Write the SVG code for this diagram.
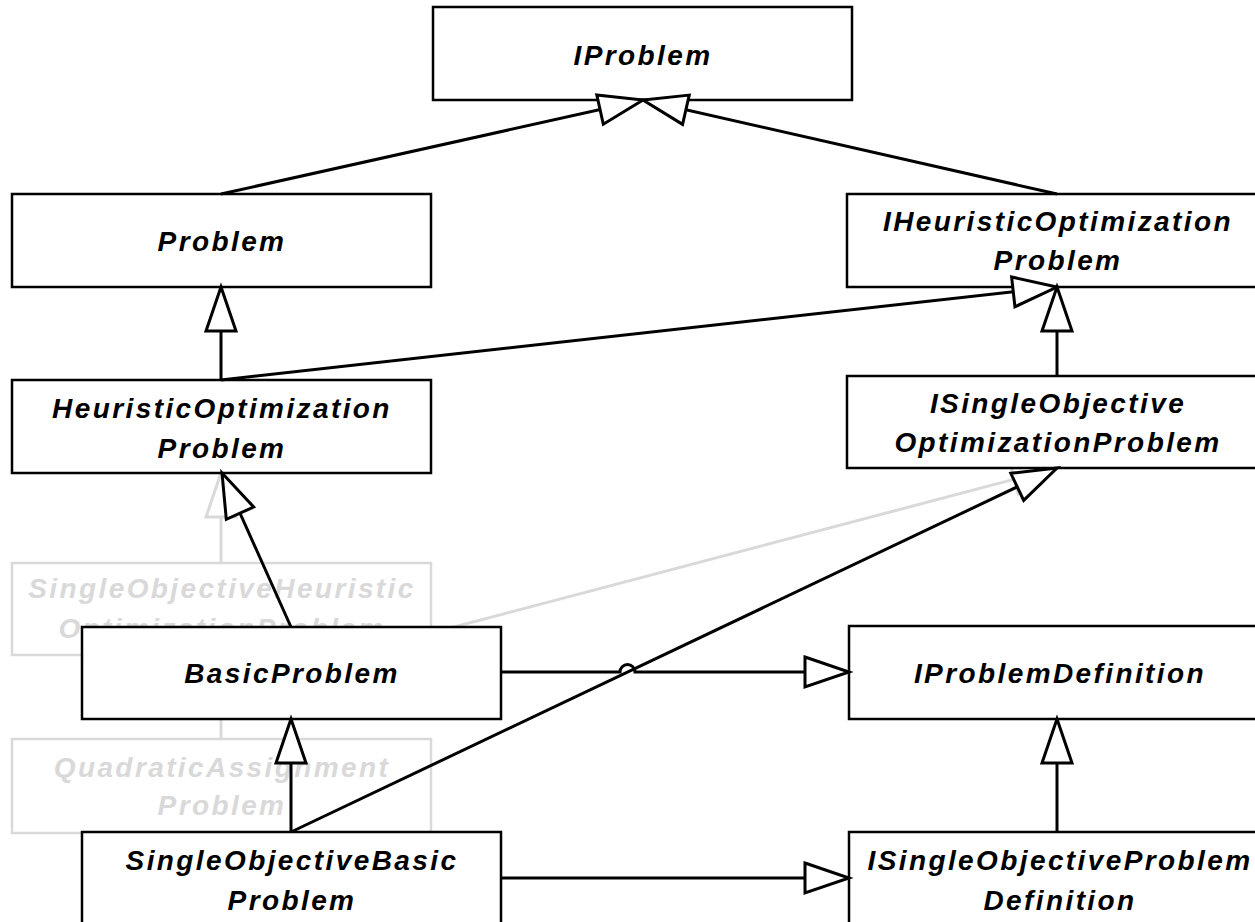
<svg xmlns="http://www.w3.org/2000/svg" width="1255" height="922" viewBox="0 0 1255 922">
<style>
.box{fill:#fff;stroke:#000;stroke-width:2.5}
.gbox{fill:#fff;stroke:#d9d9d9;stroke-width:2.5}
.t{font-family:"Liberation Sans",Arial,Helvetica,sans-serif;font-weight:bold;font-style:italic;font-size:28px;letter-spacing:2.4px;text-anchor:middle;fill:#000}
.gt{fill:#d9d9d9}
.c{fill:none;stroke:#000;stroke-width:3;marker-end:url(#gen)}
.gc{fill:none;stroke:#d9d9d9;stroke-width:3;marker-end:url(#ggen)}
</style>
<defs>
<marker id="gen" markerUnits="userSpaceOnUse" markerWidth="50" markerHeight="34" refX="44" refY="15" orient="auto" overflow="visible">
<path d="M0,0 L44,15 L0,30 Z" fill="#fff" stroke="#000" stroke-width="3" stroke-linejoin="miter"/>
</marker>
<marker id="ggen" markerUnits="userSpaceOnUse" markerWidth="50" markerHeight="34" refX="44" refY="15" orient="auto" overflow="visible">
<path d="M0,0 L44,15 L0,30 Z" fill="#fff" stroke="#d9d9d9" stroke-width="3"/>
</marker>
</defs>
<rect width="1255" height="922" fill="#fff"/>

<g id="SingleObjectiveHeuristicOptimizationProblem">
<rect class="gbox" x="12" y="563" width="419" height="92"/>
<text class="t gt" x="222" y="598">SingleObjectiveHeuristic</text>
<text class="t gt" x="222" y="638">OptimizationProblem</text>
</g>
<g id="QuadraticAssignmentProblem">
<rect class="gbox" x="12" y="739" width="419" height="94"/>
<text class="t gt" x="222" y="777">QuadraticAssignment</text>
<text class="t gt" x="222" y="815">Problem</text>
</g>

<g id="connectors-faded">
<path class="gc" d="M221,563 L221,473"/>
<path class="gc" d="M431,633 L1057,468"/>
<path class="gc" d="M221,739 L221,655"/>
</g>

<g id="IProblem">
<rect class="box" x="433" y="7" width="419" height="93"/>
<text class="t" x="643" y="65">IProblem</text>
</g>
<g id="Problem">
<rect class="box" x="12" y="194" width="419" height="93"/>
<text class="t" x="222" y="251">Problem</text>
</g>
<g id="IHeuristicOptimizationProblem">
<rect class="box" x="847" y="194" width="420" height="93"/>
<text class="t" x="1058" y="231">IHeuristicOptimization</text>
<text class="t" x="1058" y="270">Problem</text>
</g>
<g id="HeuristicOptimizationProblem">
<rect class="box" x="12" y="380" width="419" height="93"/>
<text class="t" x="222" y="418">HeuristicOptimization</text>
<text class="t" x="222" y="458">Problem</text>
</g>
<g id="ISingleObjectiveOptimizationProblem">
<rect class="box" x="847" y="376" width="420" height="92"/>
<text class="t" x="1058" y="413">ISingleObjective</text>
<text class="t" x="1058" y="452">OptimizationProblem</text>
</g>
<g id="BasicProblem">
<rect class="box" x="82" y="627" width="419" height="92"/>
<text class="t" x="292" y="683">BasicProblem</text>
</g>
<g id="IProblemDefinition">
<rect class="box" x="849" y="626" width="420" height="93"/>
<text class="t" x="1060" y="683">IProblemDefinition</text>
</g>
<g id="SingleObjectiveBasicProblem">
<rect class="box" x="82" y="832" width="419" height="93"/>
<text class="t" x="292" y="870">SingleObjectiveBasic</text>
<text class="t" x="292" y="910">Problem</text>
</g>
<g id="ISingleObjectiveProblemDefinition">
<rect class="box" x="849" y="832" width="420" height="93"/>
<text class="t" x="1060" y="870">ISingleObjectiveProblem</text>
<text class="t" x="1060" y="910">Definition</text>
</g>

<g id="connectors">
<path class="c" d="M221,194 L643,100"/>
<path class="c" d="M1057,194 L643,100"/>
<path class="c" d="M221,380 L221,287"/>
<path class="c" d="M221,380 L1057,287"/>
<path class="c" d="M1057,376 L1057,287"/>
<path class="c" d="M291,627 L222,473"/>
<path class="c" d="M501,672 L620,672 A7.5,7.5 0 0 1 635,672 L849,672"/>
<path class="c" d="M291,832 L291,719"/>
<path class="c" d="M291,832 L1057,468"/>
<path class="c" d="M501,878 L849,878"/>
<path class="c" d="M1057,832 L1057,719"/>
</g>
</svg>
